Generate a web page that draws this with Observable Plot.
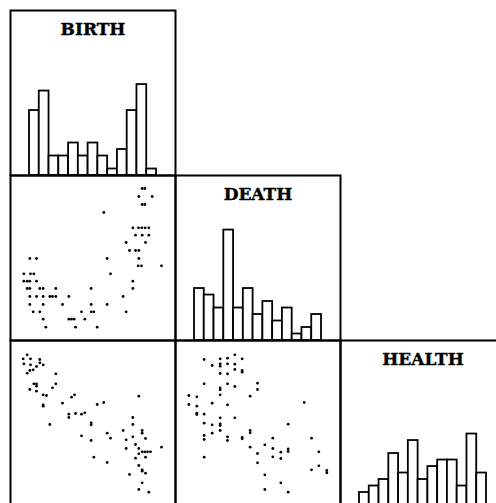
<!DOCTYPE html>
<html>
<head>
<meta charset="utf-8">
<script src="https://cdn.jsdelivr.net/npm/d3@7"></script>
<script src="https://cdn.jsdelivr.net/npm/@observablehq/plot@0.6"></script>
<style>
  html, body { margin: 0; padding: 0; background: #fff; overflow: hidden; width: 496px; height: 503px; }
  #matrix { position: relative; width: 496px; height: 503px; }
  #matrix svg { position: absolute; }
</style>
</head>
<body>
<div id="matrix"></div>
<script>
// Variable names shown on the diagonal
const variables = ["BIRTH", "DEATH", "HEALTH"];

// Histogram bin edges and counts for each variable
const birthBinEdges  = [11, 14, 17, 20, 23, 26, 29, 32, 35, 38, 41, 44, 47, 50];
const birthCounts    = [10, 13, 3, 3, 5, 3, 5, 3, 1, 4, 10, 14, 1];
const deathBinEdges  = [2, 3.5, 5, 6.5, 8, 9.5, 11, 12.5, 14, 15.5, 17, 18.5, 20, 21.5];
const deathCounts    = [8, 7, 5, 17, 5, 8, 4, 6, 3, 5, 1, 2, 4];
const healthBinEdges = [40, 43, 46, 49, 52, 55, 58, 61, 64, 67, 70, 73, 76, 79];
const healthCounts   = [2, 3, 4, 8, 5, 10, 4, 6, 7, 7, 3, 11, 5];

// Scatter pairs: [BIRTH, DEATH]
const birthDeath = [
  [44.5,22.8],[45.3,22.8],[43.5,21.6],[47.5,21.6],[44.5,20.4],[45.3,20.4],[33.0,19.2],
  [41.7,16.9],[43.4,16.9],[44.4,16.9],[45.4,16.9],[46.5,16.9],
  [42.5,15.8],[44.5,15.8],[46.5,15.8],
  [39.7,14.7],[45.5,14.7],
  [40.7,13.5],[42.5,13.5],[43.5,13.5],
  [10.8,12.3],[12.8,12.3],[34.0,12.3],[43.5,12.3],
  [43.3,11.2],[44.3,11.2],[50.3,11.2],
  [9.0,10.0],[11.0,10.0],[12.0,10.0],[35.0,10.0],
  [9.0,8.9],[10.0,8.9],[10.8,8.9],[12.8,8.9],[41.7,8.9],
  [10.0,7.8],[10.8,7.8],[13.8,7.8],[14.8,7.8],[18.6,7.8],[29.2,7.8],[41.7,7.8],
  [10.8,6.6],[12.8,6.6],[14.8,6.6],[16.8,6.6],[17.6,6.6],[18.6,6.6],[22.5,6.6],[38.8,6.6],
  [10.8,5.4],[14.8,5.4],[20.6,5.4],[29.2,5.4],[34.0,5.4],
  [11.8,4.3],[13.8,4.3],[26.3,4.3],[29.2,4.3],[30.0,4.3],[39.7,4.3],
  [14.8,3.2],[22.5,3.2],[23.3,3.2],[24.1,3.2],[27.3,3.2],
  [15.6,2.0],[24.5,2.0],[31.0,2.0]
];

// Scatter pairs: [BIRTH, HEALTH]
const birthHealth = [
  [10.0,80.7],[8.8,79.5],[11.0,79.5],[13.8,79.3],[9.0,78.0],[11.0,77.7],[13.8,78.3],
  [14.8,77.7],[12.8,77.2],[11.8,76.2],[10.8,76.0],[10.0,75.2],[18.6,75.0],
  [12.0,72.0],[12.8,72.0],[12.8,71.3],[18.6,72.0],[10.8,70.3],[12.8,69.8],[17.6,70.8],
  [14.8,68.7],[15.8,68.5],[24.2,68.7],[23.3,68.0],[43.5,68.3],
  [14.8,65.7],[14.8,65.3],[20.6,66.2],[31.0,65.8],[33.0,66.4],
  [22.5,62.9],[22.5,61.9],[24.5,63.1],[26.3,62.9],[27.3,63.3],
  [41.7,61.9],[16.8,59.8],[29.2,60.3],[29.2,59.7],[41.7,59.8],
  [38.8,58.0],[44.5,58.0],[44.5,57.2],[34.0,57.2],
  [26.3,56.4],[35.0,55.7],[41.7,56.1],[45.5,55.6],
  [29.2,55.0],[39.7,55.2],
  [42.5,53.8],[39.7,52.6],[43.5,52.6],
  [44.5,51.6],[45.3,51.6],[46.1,51.6],[47.0,51.6],[50.3,53.0],[43.5,51.0],
  [30.0,50.0],[42.5,49.7],[45.5,50.0],
  [34.0,48.4],[43.5,47.5],[44.5,46.2],[44.5,45.8],[45.5,45.2],[40.7,44.8],
  [44.5,42.3],[43.5,40.3],[46.5,39.5]
];

// Scatter pairs: [DEATH, HEALTH]
const deathHealth = [
  [8.9,80.7],[4.3,79.3],[6.7,79.5],[7.8,79.7],[10.0,79.5],[5.5,77.5],[6.7,78.0],
  [6.7,77.3],[7.8,78.0],[8.9,77.9],[8.9,76.3],[10.0,76.0],[10.0,75.5],[6.7,75.1],[7.8,75.0],
  [4.3,72.0],[7.8,72.0],[8.9,71.2],[6.7,70.8],[6.7,70.2],[12.3,72.2],[12.3,70.3],[6.7,68.7],
  [2.0,68.5],[3.2,68.1],[11.2,68.3],[2.0,65.8],[3.2,65.3],[5.5,66.2],[7.8,65.7],[19.3,66.4],
  [3.2,63.2],[3.2,62.8],[4.3,62.9],[6.7,61.8],[8.9,61.8],
  [4.3,60.2],[5.5,59.7],[6.7,60.0],[6.7,59.5],[16.9,59.9],
  [6.7,58.0],[5.5,57.2],[11.2,58.0],[11.2,57.3],[4.3,56.5],[4.3,55.3],[7.8,56.1],[7.8,55.0],
  [10.0,55.9],[10.0,55.5],[14.6,55.7],[20.4,55.7],
  [11.2,53.0],[13.4,53.7],[14.6,52.6],[15.8,51.5],[16.9,52.5],[16.9,51.7],[21.5,51.6],
  [4.3,50.0],[12.3,51.1],[14.6,50.1],[15.8,49.6],[12.3,48.3],
  [20.4,46.2],[21.5,47.4],[22.7,46.0],[22.7,45.3],
  [13.4,44.7],[15.8,42.3],[13.4,40.3],[16.9,39.5]
];

// Scale domains for the scatter cells (whole cell extent)
const domains = {
  BIRTH: [5, 54.5],
  DEATH: [0, 24.75],
  HEALTH: [35.5, 85]
};

const CELL = 165;   // size of one matrix cell
const PAD = 1;      // room for the frame stroke
const ORIGIN = 10;  // top-left corner of the matrix
const countMax = 25.4;

const container = document.getElementById("matrix");

function place(svg, row, col) {
  svg.style.left = (ORIGIN + CELL * col - PAD) + "px";
  svg.style.top = (ORIGIN + CELL * row - PAD) + "px";
  container.appendChild(svg);
}

const baseOptions = {
  width: CELL + 2 * PAD,
  height: CELL + 2 * PAD,
  marginTop: PAD, marginRight: PAD, marginBottom: PAD, marginLeft: PAD,
  style: { background: "transparent", overflow: "visible" }
};

function histogramCell(name, edges, counts) {
  const bins = counts.map((c, i) => ({ x1: edges[i], x2: edges[i + 1], count: c }));
  return Plot.plot({
    ...baseOptions,
    x: { axis: null, domain: [edges[0], edges[edges.length - 1]], range: [PAD + 19, PAD + 146] },
    y: { axis: null, domain: [0, countMax] },
    marks: [
      Plot.rect(bins, { x1: "x1", x2: "x2", y1: 0, y2: "count", fill: "white", stroke: "#000", strokeWidth: 1.8 }),
      Plot.text([name], {
        text: d => d, frameAnchor: "top", lineAnchor: "bottom", dy: 24.5,
        fontFamily: "DejaVu Serif", fontWeight: "bold", fontSize: 17, fill: "#000",
        stroke: "#000", strokeWidth: 0.4
      }),
      Plot.frame({ stroke: "#000", strokeWidth: 2 })
    ]
  });
}

function scatterCell(pairs, xName, yName) {
  return Plot.plot({
    ...baseOptions,
    x: { axis: null, domain: domains[xName] },
    y: { axis: null, domain: domains[yName] },
    marks: [
      Plot.dot(pairs, { x: d => d[0], y: d => d[1], r: 1.4, fill: "#000" }),
      Plot.frame({ stroke: "#000", strokeWidth: 2 })
    ]
  });
}

place(histogramCell(variables[0], birthBinEdges, birthCounts), 0, 0);
place(scatterCell(birthDeath, "BIRTH", "DEATH"), 1, 0);
place(histogramCell(variables[1], deathBinEdges, deathCounts), 1, 1);
place(scatterCell(birthHealth, "BIRTH", "HEALTH"), 2, 0);
place(scatterCell(deathHealth, "DEATH", "HEALTH"), 2, 1);
place(histogramCell(variables[2], healthBinEdges, healthCounts), 2, 2);
</script>
</body>
</html>
